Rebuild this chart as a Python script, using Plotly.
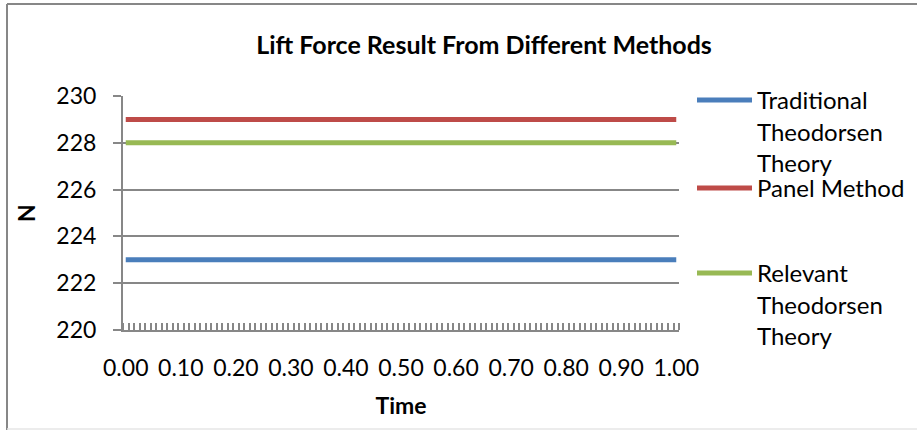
import plotly.graph_objects as go

# ---- data ----
time = [round(i * 0.01, 2) for i in range(101)]          # category axis 0.00 .. 1.00
traditional_theodorsen = [223.0] * len(time)
panel_method = [229.0] * len(time)
relevant_theodorsen = [228.0] * len(time)

series_names = ["Traditional<br>Theodorsen<br>Theory", "Panel Method",
                "Relevant<br>Theodorsen<br>Theory"]
series_colors = ["#4A7EBB", "#BE4B48", "#98B954"]
y_ticks = [220, 222, 224, 226, 228, 230]
x_ticks = [0.0, 0.1, 0.2, 0.3, 0.4, 0.5, 0.6, 0.7, 0.8, 0.9, 1.0]

W, H = 917, 430
L, R, T, B = 123, 679, 96, 330   # plot area in px
FONT = "Lato"
GRAY = "#878787"

def px_x(px):
    return (px - L) / (R - L)

def px_y(py):
    return (B - py) / (B - T)

fig = go.Figure()
values = [traditional_theodorsen, panel_method, relevant_theodorsen]
legends = ["legend", "legend2", "legend3"]
for name, vals, col, lg in zip(series_names, values, series_colors, legends):
    fig.add_trace(go.Scatter(x=time, y=vals, mode="lines", name=name,
                             line=dict(color=col, width=5), legend=lg,
                             hoverinfo="skip"))

leg_common = dict(font=dict(family=FONT, size=24, color="black"),
                  bgcolor="rgba(0,0,0,0)", borderwidth=0, valign="top",
                  xanchor="left", yanchor="top", itemwidth=55,
                  tracegroupgap=0, itemclick=False)

fig.update_layout(
    width=W, height=H,
    margin=dict(l=L, r=W - R, t=T, b=H - B, autoexpand=False),
    paper_bgcolor="white", plot_bgcolor="white",
    font=dict(family=FONT, color="black"),
    title=dict(text="<b>Lift Force Result From Different Methods</b>",
               x=484 / W, xref="container", xanchor="center",
               y=1 - 45 / H, yref="container", yanchor="middle",
               font=dict(family=FONT, size=25, color="black")),
    showlegend=True,
    legend=dict(x=px_x(692), y=px_y(78), **leg_common),
    legend2=dict(x=px_x(692), y=px_y(166), **leg_common),
    legend3=dict(x=px_x(692), y=px_y(251), **leg_common),
    xaxis=dict(range=[-0.005, 1.005], tickvals=x_ticks, tickformat=".2f",
               showgrid=False, zeroline=False,
               showline=True, linecolor=GRAY, linewidth=2,
               ticks="", ticklabelstandoff=16,
               tickfont=dict(family=FONT, size=23, color="black"),
               minor=dict(ticks="inside", ticklen=7, tickwidth=1.5,
                          tickcolor=GRAY, dtick=0.01, tick0=-0.005,
                          showgrid=False),
               title=dict(text="<b>Time</b>", standoff=18,
                          font=dict(family=FONT, size=23, color="black"))),
    yaxis=dict(range=[220, 230], tickvals=y_ticks, automargin=True,
               showgrid=True, gridcolor=GRAY, gridwidth=2, zeroline=False,
               showline=True, linecolor=GRAY, linewidth=2,
               ticks="outside", ticklen=8, tickwidth=2, tickcolor=GRAY,
               ticklabelstandoff=12,
               tickfont=dict(family=FONT, size=23, color="black"),
               title=dict(text="<b>N</b>", standoff=14,
                          font=dict(family=FONT, size=23, color="black"))),
    shapes=[
        dict(type="line", xref="paper", yref="paper",
             x0=px_x(7), x1=px_x(W + 5), y0=px_y(4), y1=px_y(4),
             line=dict(color=GRAY, width=2)),
        dict(type="line", xref="paper", yref="paper",
             x0=px_x(7), x1=px_x(7), y0=px_y(4), y1=px_y(H + 5),
             line=dict(color=GRAY, width=2)),
        dict(type="line", xref="paper", yref="paper",
             x0=px_x(7), x1=px_x(W + 5), y0=px_y(429), y1=px_y(429),
             line=dict(color="#E6E6E6", width=1.5)),
    ],
)

fig.write_html("out.html")
